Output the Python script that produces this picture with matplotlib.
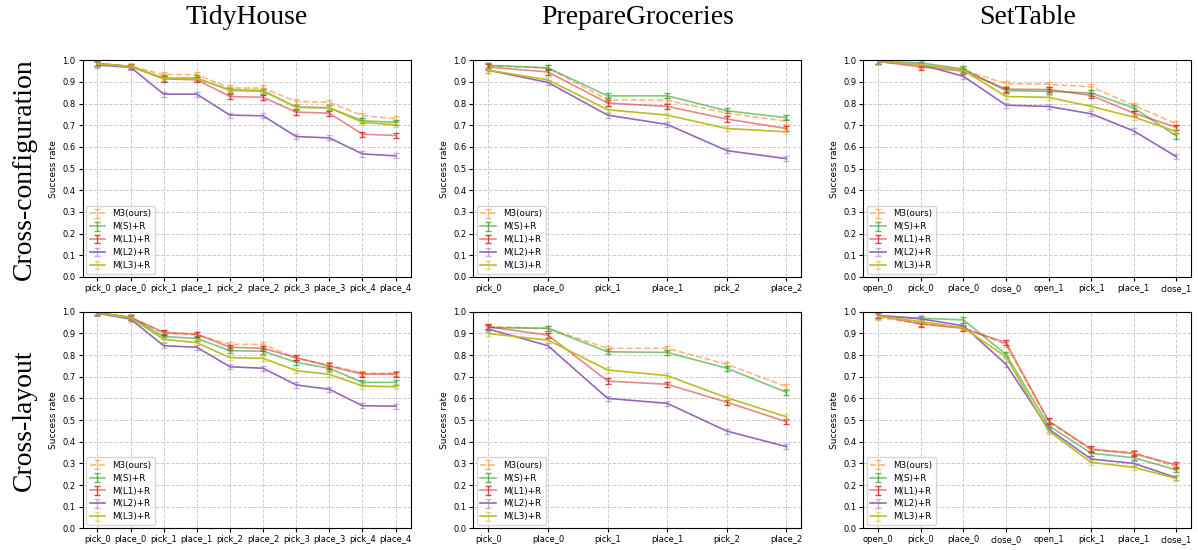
import matplotlib
matplotlib.use("Agg")
import matplotlib.pyplot as plt

# stage labels per task
tidy_stages = ["pick_0", "place_0", "pick_1", "place_1", "pick_2", "place_2",
               "pick_3", "place_3", "pick_4", "place_4"]
groc_stages = ["pick_0", "place_0", "pick_1", "place_1", "pick_2", "place_2"]
table_stages = ["open_0", "pick_0", "place_0", "close_0", "open_1", "pick_1",
                "place_1", "close_1"]

methods = ["M3(ours)", "M(S)+R", "M(L1)+R", "M(L2)+R", "M(L3)+R"]

# success rates, one row per method (same order as `methods`)
tidy_cfg = [
    [0.986, 0.973, 0.934, 0.934, 0.872, 0.872, 0.810, 0.806, 0.745, 0.730],
    [0.985, 0.972, 0.918, 0.918, 0.861, 0.857, 0.784, 0.781, 0.721, 0.714],
    [0.984, 0.972, 0.914, 0.910, 0.833, 0.829, 0.761, 0.756, 0.659, 0.653],
    [0.978, 0.968, 0.844, 0.844, 0.747, 0.744, 0.648, 0.642, 0.568, 0.559],
    [0.984, 0.972, 0.916, 0.916, 0.864, 0.861, 0.783, 0.781, 0.714, 0.702],
]
groc_cfg = [
    [0.975, 0.965, 0.818, 0.815, 0.756, 0.719],
    [0.977, 0.965, 0.836, 0.836, 0.767, 0.735],
    [0.969, 0.946, 0.803, 0.787, 0.729, 0.685],
    [0.954, 0.898, 0.747, 0.704, 0.583, 0.546],
    [0.954, 0.910, 0.772, 0.747, 0.685, 0.670],
]
table_cfg = [
    [0.995, 0.978, 0.955, 0.892, 0.890, 0.877, 0.792, 0.707],
    [0.995, 0.988, 0.960, 0.860, 0.857, 0.849, 0.780, 0.651],
    [0.995, 0.969, 0.950, 0.867, 0.865, 0.838, 0.756, 0.691],
    [0.993, 0.980, 0.926, 0.793, 0.787, 0.753, 0.674, 0.555],
    [0.995, 0.980, 0.954, 0.833, 0.829, 0.787, 0.738, 0.671],
]
tidy_lay = [
    [0.995, 0.974, 0.900, 0.893, 0.849, 0.849, 0.785, 0.754, 0.716, 0.716],
    [0.995, 0.974, 0.885, 0.877, 0.820, 0.818, 0.766, 0.739, 0.674, 0.674],
    [0.995, 0.974, 0.905, 0.896, 0.836, 0.831, 0.788, 0.749, 0.712, 0.712],
    [0.993, 0.966, 0.843, 0.836, 0.746, 0.739, 0.662, 0.642, 0.566, 0.564],
    [0.995, 0.972, 0.873, 0.857, 0.788, 0.785, 0.728, 0.711, 0.657, 0.654],
]
groc_lay = [
    [0.931, 0.923, 0.831, 0.831, 0.757, 0.654],
    [0.927, 0.923, 0.815, 0.812, 0.739, 0.628],
    [0.930, 0.892, 0.680, 0.665, 0.582, 0.492],
    [0.920, 0.843, 0.600, 0.577, 0.449, 0.377],
    [0.899, 0.869, 0.731, 0.705, 0.603, 0.515],
]
table_lay = [
    [0.973, 0.946, 0.926, 0.849, 0.493, 0.362, 0.351, 0.283],
    [0.982, 0.970, 0.962, 0.803, 0.474, 0.347, 0.326, 0.270],
    [0.982, 0.943, 0.923, 0.857, 0.496, 0.366, 0.345, 0.293],
    [0.982, 0.967, 0.935, 0.757, 0.459, 0.320, 0.300, 0.234],
    [0.980, 0.954, 0.926, 0.792, 0.449, 0.305, 0.282, 0.230],
]

tasks = ["TidyHouse", "PrepareGroceries", "SetTable"]
settings = ["Cross-configuration", "Cross-layout"]
panels = [
    [(tidy_stages, tidy_cfg), (groc_stages, groc_cfg), (table_stages, table_cfg)],
    [(tidy_stages, tidy_lay), (groc_stages, groc_lay), (table_stages, table_lay)],
]

err = 0.012

# color, linestyle, line alpha, error bar alpha
styles = [
    ("tab:orange", "--", 0.55, 0.55),
    ("tab:green", "-", 0.6, 0.75),
    ("tab:red", "-", 0.55, 0.85),
    ("tab:purple", "-", 1.0, 0.5),
    ("tab:olive", "-", 1.0, 0.5),
]

W, H = 1198, 550
fig = plt.figure(figsize=(W / 100, H / 100), dpi=100)

col_left = [82.5, 473.4, 863.3]
row_top = [60.3, 311.7]
ax_w, ax_h = 328, 216.7

serif = ["Liberation Serif", "DejaVu Serif"]

for r in range(2):
    for c in range(3):
        left = col_left[c] / W
        bottom = 1 - (row_top[r] + ax_h) / H
        ax = fig.add_axes([left, bottom, ax_w / W, ax_h / H])
        stages, rates = panels[r][c]
        x = list(range(len(stages)))
        for name, vals, (col, ls, la, ea) in zip(methods, rates, styles):
            cont = ax.errorbar(x, vals, yerr=err, color=col, ls=ls, lw=1.2,
                               elinewidth=1.0, capsize=2.5, capthick=1.0,
                               label=name)
            cont.lines[0].set_alpha(la)
            for cap in cont.lines[1]:
                cap.set_alpha(ea)
            for bar in cont.lines[2]:
                bar.set_alpha(ea)
        ax.set_ylim(0, 1.0)
        ax.set_yticks([i / 10 for i in range(11)])
        ax.set_xticks(x)
        ax.set_xticklabels(stages)
        ax.tick_params(labelsize=6, length=3, pad=2)
        ax.set_ylabel("Success rate", fontsize=6.5, labelpad=3)
        ax.grid(True, ls="--", color="#cccccc", lw=0.7)
        ax.set_axisbelow(True)
        ax.legend(loc="lower left", fontsize=6.3, handlelength=1.8,
                  borderaxespad=0.4, labelspacing=0.45, framealpha=0.8)

# task names across the top
for c, t in enumerate(tasks):
    cx = (col_left[c] + ax_w / 2) / W
    fig.text(cx, 1 - 24 / H, t, ha="center", va="baseline",
             fontsize=20, family=serif)

# evaluation setting down the left side
for r, s in enumerate(settings):
    cy = 1 - (row_top[r] + ax_h / 2) / H
    fig.text(24 / W, cy, s, rotation=90, ha="center", va="center",
             fontsize=20, family=serif)

fig.savefig("out.png", dpi=100)
